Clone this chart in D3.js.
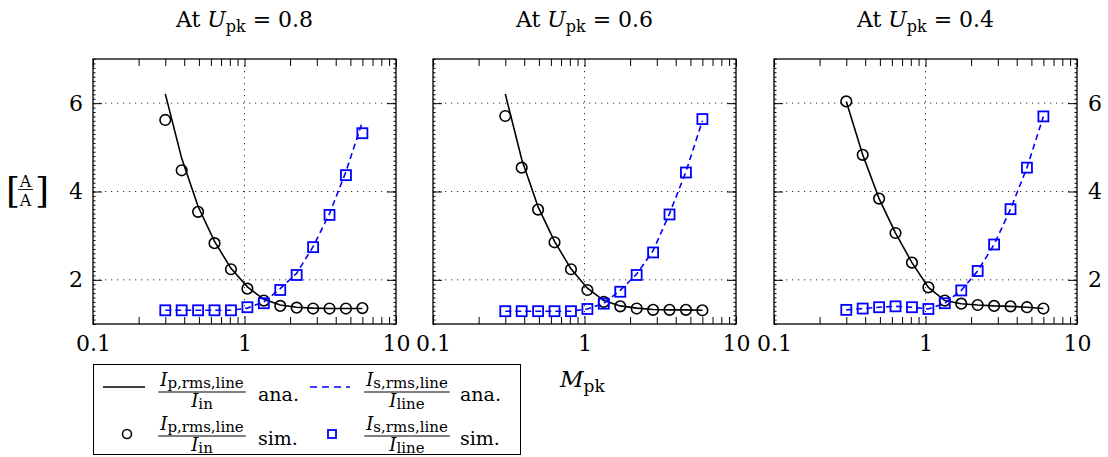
<!DOCTYPE html>
<html>
  <head>
    <meta charset="utf-8">
    <title>Line current ratios</title>
    <script src="https://cdn.jsdelivr.net/npm/d3@7/dist/d3.min.js"></script>
    <style>
      body { margin: 0; background: #fff; }
      svg { font-family: "DejaVu Serif", "Liberation Serif", serif; }
      .grid { stroke: #333; stroke-width: 1; stroke-dasharray: 1.2 4.8; }
      .frame { fill: none; stroke: #000; stroke-width: 1.3; }
      .tick line { stroke: #000; stroke-width: 1; }
    </style>
  </head>

  <body>
    <svg id="chart" width="1108" height="457"></svg>

    <script>
      // data
      upkValues = ["0.8", "0.6", "0.4"];
      mpk = [0.3, 0.385, 0.494, 0.634, 0.814, 1.045, 1.341, 1.722, 2.21, 2.837, 3.641, 4.674, 6.0];
      primaryAna = [
        [6.21, 4.75, 3.66, 2.87, 2.26, 1.84, 1.56, 1.43, 1.38, 1.36, 1.35, 1.35, 1.35],
        [6.21, 4.73, 3.65, 2.87, 2.25, 1.81, 1.53, 1.41, 1.36, 1.33, 1.32, 1.32, 1.31],
        [6.04, 4.83, 3.84, 3.06, 2.39, 1.83, 1.53, 1.46, 1.43, 1.41, 1.40, 1.38, 1.35]
      ];
      primarySim = [
        [5.62, 4.48, 3.54, 2.83, 2.24, 1.80, 1.53, 1.41, 1.37, 1.35, 1.35, 1.35, 1.36],
        [5.71, 4.54, 3.59, 2.85, 2.24, 1.77, 1.50, 1.40, 1.35, 1.32, 1.32, 1.32, 1.31],
        [6.04, 4.83, 3.84, 3.06, 2.39, 1.83, 1.53, 1.46, 1.43, 1.41, 1.40, 1.38, 1.35]
      ];
      secondaryAna = [
        [1.31, 1.31, 1.31, 1.31, 1.31, 1.36, 1.50, 1.80, 2.15, 2.75, 3.50, 4.45, 5.58],
        [1.29, 1.29, 1.29, 1.29, 1.29, 1.34, 1.47, 1.76, 2.13, 2.66, 3.50, 4.45, 5.60],
        [1.32, 1.35, 1.38, 1.40, 1.38, 1.34, 1.47, 1.76, 2.20, 2.80, 3.60, 4.54, 5.70]
      ];
      secondarySim = [
        [1.31, 1.31, 1.31, 1.31, 1.31, 1.38, 1.47, 1.77, 2.11, 2.74, 3.47, 4.37, 5.32],
        [1.29, 1.29, 1.29, 1.29, 1.29, 1.34, 1.46, 1.73, 2.11, 2.62, 3.48, 4.43, 5.64],
        [1.32, 1.35, 1.38, 1.40, 1.38, 1.34, 1.47, 1.76, 2.20, 2.80, 3.60, 4.54, 5.70]
      ];
      xMajor = [0.1, 1, 10];
      xMinor = [0.2, 0.3, 0.4, 0.5, 0.6, 0.7, 0.8, 0.9, 2, 3, 4, 5, 6, 7, 8, 9];
      yMajor = [2, 4, 6];
      yMinor = d3.range(10, 71).map(function(d) { return d / 10; });

      // layout
      svg = d3.select("#chart");
      panelLeft = [93, 433, 774];
      panelTop = 59;
      width = 303;
      height = 265;
      blue = "#0000ff";

      x = d3.scaleLog().domain([0.1, 10]).range([0, width]);
      y = d3.scaleLinear().domain([1, 7]).range([height, 0]);

      line = d3.line()
        .x(function(d) { return x(d[0]); })
        .y(function(d) { return y(d[1]); });

      function styleLabels(axisGroup) {
        axisGroup.select(".domain").remove();
        axisGroup.attr("font-family", null).attr("font-size", 22);
        axisGroup.selectAll("text").attr("fill", "#000");
      }

      upkValues.forEach(function(upk, p) {
        g = svg.append("g")
          .attr("transform", "translate(" + panelLeft[p] + "," + panelTop + ")");

        // grid
        g.selectAll(".hgrid")
            .data(yMajor)
          .enter().append("line")
            .attr("class", "grid")
            .attr("x1", 0).attr("x2", width)
            .attr("y1", y).attr("y2", y);
        g.append("line")
          .attr("class", "grid")
          .attr("x1", x(1)).attr("x2", x(1))
          .attr("y1", 0).attr("y2", height);

        // x axes, ticks pointing inward
        g.append("g")
          .attr("transform", "translate(0," + height + ")")
          .call(d3.axisBottom(x).tickValues(xMinor).tickSize(-7).tickFormat(""))
          .call(styleLabels);
        g.append("g")
          .attr("transform", "translate(0," + height + ")")
          .call(d3.axisBottom(x).tickValues(xMajor).tickSize(-8).tickPadding(11)
            .tickFormat(function(d) { return d3.format("~g")(d); }))
          .call(styleLabels);
        g.append("g")
          .call(d3.axisTop(x).tickValues(xMinor).tickSize(-7).tickFormat(""))
          .call(styleLabels);
        g.append("g")
          .call(d3.axisTop(x).tickValues(xMajor).tickSize(-8).tickFormat(""))
          .call(styleLabels);

        // y axes
        g.append("g")
          .call(d3.axisLeft(y).tickValues(yMinor).tickSize(-2.5).tickFormat(""))
          .call(styleLabels);
        g.append("g")
          .attr("transform", "translate(" + width + ",0)")
          .call(d3.axisRight(y).tickValues(yMinor).tickSize(-2.5).tickFormat(""))
          .call(styleLabels);
        g.append("g")
          .call(d3.axisLeft(y).tickValues(yMajor).tickSize(-9).tickPadding(10)
            .tickFormat(p == 0 ? d3.format("d") : ""))
          .call(styleLabels);
        g.append("g")
          .attr("transform", "translate(" + width + ",0)")
          .call(d3.axisRight(y).tickValues(yMajor).tickSize(-9).tickPadding(11)
            .tickFormat(p == 2 ? d3.format("d") : ""))
          .call(styleLabels);

        g.append("rect")
          .attr("class", "frame")
          .attr("width", width)
          .attr("height", height);

        // series
        g.append("path")
          .datum(d3.zip(mpk, primaryAna[p]))
          .attr("d", line)
          .attr("fill", "none")
          .attr("stroke", "#000")
          .attr("stroke-width", 1.6);
        g.append("path")
          .datum(d3.zip(mpk, secondaryAna[p]))
          .attr("d", line)
          .attr("fill", "none")
          .attr("stroke", blue)
          .attr("stroke-width", 1.6)
          .attr("stroke-dasharray", "6 4");
        g.selectAll(".sim")
            .data(d3.zip(mpk, primarySim[p]))
          .enter().append("circle")
            .attr("cx", function(d) { return x(d[0]); })
            .attr("cy", function(d) { return y(d[1]); })
            .attr("r", 5.3)
            .attr("fill", "none")
            .attr("stroke", "#000")
            .attr("stroke-width", 1.6);
        g.selectAll(".simsq")
            .data(d3.zip(mpk, secondarySim[p]))
          .enter().append("rect")
            .attr("x", function(d) { return x(d[0]) - 5; })
            .attr("y", function(d) { return y(d[1]) - 5; })
            .attr("width", 10)
            .attr("height", 10)
            .attr("fill", "none")
            .attr("stroke", blue)
            .attr("stroke-width", 1.8);

        // title
        title = svg.append("text")
          .attr("x", panelLeft[p] + width / 2)
          .attr("y", 27)
          .attr("text-anchor", "middle")
          .attr("font-size", 22);
        title.append("tspan").text("At ");
        title.append("tspan").attr("font-style", "italic").text("U");
        title.append("tspan").attr("font-size", 16).attr("dy", 5).text("pk");
        title.append("tspan").attr("dy", -5).text(" = " + upk);
      });

      // y label [A/A]
      yLabel = svg.append("g");
      yLabel.append("text").attr("x", 6).attr("y", 203).attr("font-size", 36).text("[");
      yLabel.append("text").attr("x", 35).attr("y", 203).attr("font-size", 36).text("]");
      yLabel.append("text").attr("x", 25.5).attr("y", 187).attr("text-anchor", "middle")
        .attr("font-size", 16).text("A");
      yLabel.append("line").attr("x1", 18).attr("x2", 33).attr("y1", 189.5).attr("y2", 189.5)
        .attr("stroke", "#000").attr("stroke-width", 0.9);
      yLabel.append("text").attr("x", 25.5).attr("y", 206).attr("text-anchor", "middle")
        .attr("font-size", 16).text("A");

      // x label
      xLabel = svg.append("text")
        .attr("x", 560)
        .attr("y", 387)
        .attr("font-size", 23);
      xLabel.append("tspan").attr("font-style", "italic").text("M");
      xLabel.append("tspan").attr("font-size", 17).attr("dy", 5).text("pk");

      // legend
      legend = svg.append("g");
      legend.append("rect")
        .attr("x", 93.5).attr("y", 364.5)
        .attr("width", 427).attr("height", 90)
        .attr("fill", "#fff").attr("stroke", "#000").attr("stroke-width", 1);

      function fraction(cx, barY, numSub, denSub) {
        num = legend.append("text")
          .attr("x", cx).attr("y", barY - 6.5)
          .attr("text-anchor", "middle")
          .attr("font-size", 18);
        num.append("tspan").attr("font-style", "italic").text("I");
        num.append("tspan").attr("font-size", 15).attr("dy", 2).text(numSub);
        den = legend.append("text")
          .attr("x", cx).attr("y", barY + 15)
          .attr("text-anchor", "middle")
          .attr("font-size", 18);
        den.append("tspan").attr("font-style", "italic").text("I");
        den.append("tspan").attr("font-size", 15).attr("dy", 1.5).text(denSub);
        w = num.node().getComputedTextLength() + 4;
        legend.append("line")
          .attr("x1", cx - w / 2).attr("x2", cx + w / 2)
          .attr("y1", barY).attr("y2", barY)
          .attr("stroke", "#000").attr("stroke-width", 1);
      }

      legendRows = [
        { y: 387, bar: 392, kind: "ana." },
        { y: 434, bar: 436, kind: "sim." }
      ];
      legendRows.forEach(function(r, i) {
        if (i == 0) {
          legend.append("line")
            .attr("x1", 103).attr("x2", 145).attr("y1", r.y).attr("y2", r.y)
            .attr("stroke", "#000").attr("stroke-width", 1.6);
          legend.append("line")
            .attr("x1", 310).attr("x2", 350).attr("y1", r.y).attr("y2", r.y)
            .attr("stroke", blue).attr("stroke-width", 1.6)
            .attr("stroke-dasharray", "7 5");
        } else {
          legend.append("circle")
            .attr("cx", 127).attr("cy", r.y).attr("r", 4.5)
            .attr("fill", "none").attr("stroke", "#000").attr("stroke-width", 1.6);
          legend.append("rect")
            .attr("x", 328).attr("y", r.y - 4).attr("width", 8).attr("height", 8)
            .attr("fill", "none").attr("stroke", blue).attr("stroke-width", 1.8);
        }
        fraction(202, r.bar, "p,rms,line", "in");
        fraction(407, r.bar, "s,rms,line", "line");
        legend.append("text")
          .attr("x", 258).attr("y", r.bar + 9)
          .attr("font-size", 19).text(r.kind);
        legend.append("text")
          .attr("x", 460).attr("y", r.bar + 9)
          .attr("font-size", 19).text(r.kind);
      });
    </script>
  </body>
</html>
